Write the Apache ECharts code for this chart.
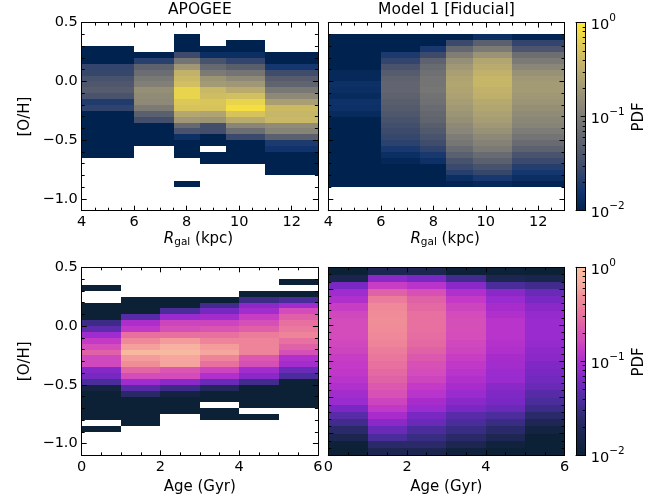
<!DOCTYPE html>
<html><head><meta charset="utf-8">
<script src="https://cdn.jsdelivr.net/npm/echarts@6/dist/echarts.min.js"></script>
<style>html,body{margin:0;padding:0;background:#fff}#c{width:670px;height:501px}</style>
</head><body><div id="c"></div>
<script>
// ---------------- data ----------------
const rgalEdges = [4, 6, 7.5, 8.5, 9.5, 11, 13];
const ageEdges = [0, 1, 2, 3, 4, 5, 6];
const ohFineTop = 0.4, ohFineStep = 0.05;     // [O/H] bins (top panels, APOGEE age)
const ohCoarseTop = 0.8, ohCoarseStep = 0.1;  // [O/H] bins (model vs age)
const rgalTicks = [4, 6, 8, 10, 12];
const ageTicks = [0, 2, 4, 6];
const ohTicks = [-1, -0.5, 0, 0.5];
const ohTicksModelAge = [-1.5, -1, -0.5, 0, 0.5];
const pdfLogTicks = [-2, -1, 0];
const pdfLogRange = [-2, 0];

// log10(PDF), one array per x-bin, rows listed from the top [O/H] bin downward; null = empty
const apogeeRgalLogPdf = [
  [null,null,-2,-2,-2,-1.6,-1.58,-1.46,-1.4,-1.34,-1.44,-1.7,-1.62,-2,-2,-2,-2,-2,-2,-2,-2,null,null,null,null,null],
  [null,null,null,-2,-1.66,-1.28,-1.16,-1.04,-0.96,-0.8,-0.84,-0.86,-1.02,-1.3,-1.5,-2,-2,-2,-2,null,null,null,null,null,null,null],
  [-2,-2,-2,-1.54,-1.08,-0.72,-0.46,-0.4,-0.34,-0.16,-0.16,-0.26,-0.3,-0.56,-0.72,-1.2,-1.44,-1.84,-2,-2,-2,null,null,null,null,-2],
  [null,null,-2,-1.86,-1.46,-1.2,-1.02,-0.74,-0.68,-0.4,-0.36,-0.28,-0.3,-0.6,-0.74,-1.5,-1.5,-2,-2,null,-2,-2,null,null,null,null],
  [null,-2,-2,-1.86,-1.6,-1.32,-1.08,-0.86,-0.72,-0.52,-0.34,-0.16,-0.08,-0.3,-0.52,-0.9,-1.14,-1.56,-2,-2,-2,-2,null,null,null,null],
  [null,null,null,-2,-2,-1.76,-1.52,-1.34,-1.26,-1.04,-0.86,-0.64,-0.38,-0.42,-0.4,-0.84,-0.92,-1.3,-1.72,-1.8,-2,-2,-2,-2,null,null]
];
const modelRgalLogPdf = [
  [-2,-2,-2,-2,-2,-2,-1.92,-1.92,-1.84,-1.86,-1.9,-1.82,-1.84,-1.9,-2,-2,-2,-2,-2,-2,-2,-2,-2,-2,-2,-2],
  [-2,-2,-2,-1.72,-1.6,-1.44,-1.34,-1.28,-1.24,-1.24,-1.28,-1.32,-1.36,-1.4,-1.46,-1.5,-1.54,-1.58,-1.64,-1.74,-1.86,-1.94,-2,-2,-2,-2],
  [-2,-2,-1.74,-1.54,-1.28,-1.18,-1.12,-1.08,-1.08,-1.06,-1.1,-1.12,-1.18,-1.22,-1.26,-1.32,-1.38,-1.44,-1.52,-1.62,-1.74,-1.84,-2,-2,-2,-2],
  [-2,-1.56,-1.22,-0.98,-0.8,-0.72,-0.64,-0.6,-0.58,-0.6,-0.62,-0.66,-0.7,-0.74,-0.8,-0.86,-0.9,-1.0,-1.06,-1.18,-1.3,-1.46,-1.56,-1.68,-1.86,-1.96],
  [-1.86,-1.3,-1.02,-0.76,-0.58,-0.52,-0.46,-0.42,-0.42,-0.46,-0.48,-0.54,-0.58,-0.62,-0.66,-0.72,-0.78,-0.86,-0.94,-1.02,-1.18,-1.3,-1.46,-1.58,-1.74,-1.92],
  [-1.96,-1.6,-1.42,-1.14,-1.02,-0.88,-0.78,-0.72,-0.68,-0.68,-0.72,-0.74,-0.8,-0.84,-0.88,-0.92,-1.0,-1.08,-1.18,-1.28,-1.44,-1.56,-1.68,-1.76,-1.86,-1.96]
];
const apogeeAgeLogPdf = [
  [null,-2,null,null,-2,-2,-2,-1.5,-1.32,-1.06,-0.88,-0.76,-0.6,-0.8,-0.8,-1.16,-1.22,-1.44,-1.9,-2,-2,-2,-2,-2,null,-2],
  [null,null,null,-2,-2,-2,-1.36,-1.0,-0.9,-0.52,-0.36,-0.24,-0.08,-0.26,-0.32,-0.58,-0.78,-1.06,-1.36,-1.64,-2,-2,-2,-2,-2,null],
  [null,null,null,-2,-2,-1.44,-1.08,-0.82,-0.74,-0.52,-0.26,-0.14,-0.08,-0.2,-0.22,-0.68,-0.78,-1.14,-1.5,-1.88,-2,-2,-2,null,null,null],
  [null,null,null,-2,-1.48,-1.22,-1.04,-0.82,-0.68,-0.52,-0.4,-0.26,-0.2,-0.4,-0.52,-0.82,-0.98,-1.28,-1.7,-2,-2,null,-2,-2,null,null],
  [null,null,-2,-1.5,-1.14,-1.04,-0.86,-0.74,-0.62,-0.44,-0.4,-0.4,-0.4,-0.66,-0.74,-1.04,-1.14,-1.48,-2,-2,-2,-2,null,-2,null,null],
  [-2,null,-2,-1.44,-1.06,-0.78,-0.62,-0.52,-0.46,-0.4,-0.52,-0.6,-0.74,-0.98,-1.04,-1.28,-1.44,-2,-2,-2,-2,-2,null,null,null,null]
];
const modelAgeLogPdf = [
  [-2,-1.8,-1.2,-1.06,-0.98,-0.86,-0.8,-0.78,-0.78,-0.78,-0.8,-0.82,-0.86,-0.88,-0.9,-0.94,-0.98,-1.04,-1.08,-1.2,-1.34,-1.48,-1.62,-1.76,-1.98,-2],
  [-1.76,-1.14,-0.86,-0.6,-0.44,-0.36,-0.34,-0.32,-0.34,-0.36,-0.4,-0.44,-0.48,-0.52,-0.56,-0.6,-0.66,-0.72,-0.82,-0.9,-1.02,-1.14,-1.28,-1.44,-1.62,-1.76],
  [-1.76,-1.2,-0.94,-0.72,-0.6,-0.56,-0.52,-0.52,-0.52,-0.54,-0.56,-0.6,-0.66,-0.72,-0.78,-0.82,-0.88,-0.94,-1.02,-1.08,-1.2,-1.28,-1.44,-1.52,-1.62,-1.76],
  [-1.96,-1.48,-1.14,-0.98,-0.88,-0.82,-0.78,-0.74,-0.74,-0.76,-0.8,-0.82,-0.86,-0.9,-0.94,-0.98,-1.02,-1.08,-1.14,-1.2,-1.34,-1.44,-1.52,-1.62,-1.76,-1.92],
  [-1.98,-1.76,-1.44,-1.14,-1.08,-1.02,-0.98,-0.94,-0.94,-0.94,-0.96,-0.98,-1.02,-1.04,-1.08,-1.08,-1.14,-1.18,-1.2,-1.28,-1.42,-1.52,-1.62,-1.74,-1.92,-2],
  [-2,-1.8,-1.48,-1.28,-1.2,-1.14,-1.1,-1.08,-1.08,-1.08,-1.1,-1.12,-1.14,-1.18,-1.2,-1.24,-1.28,-1.36,-1.44,-1.5,-1.62,-1.74,-1.9,-2,-2,-2]
];

// ---------------- colour maps ----------------
const cividisStops = [[0,'#00224e'],[1/9,'#123570'],[2/9,'#3b496c'],[3/9,'#575d6d'],[4/9,'#707173'],
  [5/9,'#8a8678'],[6/9,'#a59c74'],[7/9,'#c3b369'],[8/9,'#e1cc55'],[1,'#fee838']];
const bubbleStops = [[0,'#0c2036'],[0.12,'#1c2650'],[0.19,'#2a2a6a'],[0.25,'#3c2c88'],[0.28,'#4a2c9a'],
  [0.33,'#5a2ba8'],[0.36,'#6a2ab8'],[0.40,'#7a28c4'],[0.43,'#8a28c8'],[0.46,'#9a2ccf'],[0.49,'#a82ccc'],
  [0.51,'#b030cc'],[0.53,'#b834ca'],[0.56,'#c43ac6'],[0.59,'#cc44be'],[0.61,'#d44cbc'],[0.64,'#d650b6'],
  [0.67,'#dc58ae'],[0.70,'#e062a6'],[0.74,'#e870a0'],[0.78,'#ec7c9c'],[0.80,'#ee849a'],[0.84,'#f08e98'],
  [0.88,'#f5a09c'],[0.93,'#f8b0a0'],[0.96,'#f9b8a0'],[1,'#fac0a2']];
function makeCmap(stops){
  const s = stops.map(([t,h]) => [t, parseInt(h.slice(1,3),16), parseInt(h.slice(3,5),16), parseInt(h.slice(5,7),16)]);
  return function(t){
    t = Math.max(0, Math.min(1, t));
    for (let i = 1; i < s.length; i++) {
      if (t <= s[i][0]) {
        const a = s[i-1], b = s[i], f = (t - a[0]) / (b[0] - a[0]);
        return 'rgb(' + [1,2,3].map(k => Math.round(a[k] + (b[k]-a[k]) * f)).join(',') + ')';
      }
    }
    const l = s[s.length-1]; return 'rgb(' + l[1] + ',' + l[2] + ',' + l[3] + ')';
  };
}
const cividis = makeCmap(cividisStops), bubble = makeCmap(bubbleStops);

// ---------------- helpers ----------------
const FONT = 'DejaVu Sans';
const TICKFS = 14.5;
const option = { animation:false, backgroundColor:'#fff', grid:[], xAxis:[], yAxis:[], series:[], graphic:[] };

function fmtNum(v){ return (v < 0 ? '\u2212' : '') + Math.abs(v).toFixed(1); }
function fmtInt(v){ return String(v); }
function minorList(a, b, step){ const r=[]; const n=Math.round((b-a)/step); for(let i=0;i<=n;i++) r.push(+(a+i*step).toFixed(4)); return r; }

function axisDef(gi, range, pos, ticks, len, fmt, line, extraLabel){
  return { gridIndex:gi, type:'value', min:range[0], max:range[1], position:pos, z:10,
    axisLine:{show:line, onZero:false, lineStyle:{color:'#000', width:1}},
    axisTick:{show:true, inside:true, length:len, customValues:ticks, lineStyle:{color:'#000', width:1}},
    axisLabel: fmt ? Object.assign({show:true, customValues:ticks, formatter:fmt, fontSize:TICKFS, fontFamily:FONT, color:'#000', margin:4}, extraLabel||{}) : {show:false},
    splitLine:{show:false}, minorTick:{show:false}, minorSplitLine:{show:false} };
}
function addPanel(rect, xr, yr, xMaj, xMin, yMaj, yMin, xFmt, yFmt){
  const gi = option.grid.length;
  option.grid.push({left:rect[0], top:rect[1], width:rect[2], height:rect[3]});
  const xi = option.xAxis.length, yi = option.yAxis.length;
  option.xAxis.push(axisDef(gi, xr, 'bottom', xMaj, 5, xFmt, true));
  option.xAxis.push(axisDef(gi, xr, 'bottom', xMin, 3, null, false));
  option.xAxis.push(axisDef(gi, xr, 'top', xMaj, 5, null, true));
  option.xAxis.push(axisDef(gi, xr, 'top', xMin, 3, null, false));
  option.yAxis.push(axisDef(gi, yr, 'left', yMaj, 5, yFmt, true));
  option.yAxis.push(axisDef(gi, yr, 'left', yMin, 3, null, false));
  option.yAxis.push(axisDef(gi, yr, 'right', yMaj, 5, null, true));
  option.yAxis.push(axisDef(gi, yr, 'right', yMin, 3, null, false));
  return {xi, yi};
}
function cellData(edges, top, step, cols){
  const d = [];
  cols.forEach((col, ci) => col.forEach((v, ri) => {
    if (v === null) return;
    d.push([edges[ci], edges[ci+1], top - step*(ri+1), top - step*ri, v]);
  }));
  return d;
}
function heatSeries(idx, data, cmap){
  return { type:'custom', xAxisIndex:idx.xi, yAxisIndex:idx.yi, z:2, clip:true, data:data,
    encode:{x:[0,1], y:[2,3]},
    renderItem:function(params, api){
      const a = api.coord([api.value(0), api.value(3)]), b = api.coord([api.value(1), api.value(2)]);
      const x = Math.round(a[0]), y = Math.round(a[1]);
      const c = cmap((api.value(4) - pdfLogRange[0]) / (pdfLogRange[1] - pdfLogRange[0]));
      return {type:'rect', shape:{x:x, y:y, width:Math.round(b[0])-x, height:Math.round(b[1])-y}, style:{fill:c}};
    }};
}
function addColorbar(rect, stops){
  const gi = option.grid.length;
  option.grid.push({left:rect[0], top:rect[1], width:rect[2], height:rect[3]});
  const xi = option.xAxis.length, yi = option.yAxis.length;
  const xr = [0,1];
  option.xAxis.push(axisDef(gi, xr, 'bottom', [], 0, null, true));
  option.xAxis.push(axisDef(gi, xr, 'top', [], 0, null, true));
  const minors = [];
  for (let e = -2; e < 0; e++) for (let m = 2; m <= 9; m++) minors.push(Math.log10(m) + e);
  option.yAxis.push(axisDef(gi, pdfLogRange, 'right', pdfLogTicks, 5,
    v => '{b|10}{s|' + (v === 0 ? '0' : '\u2212' + Math.abs(v)) + '}', true,
    {margin:5, rich:{b:{fontSize:TICKFS, fontFamily:FONT, color:'#000', lineHeight:20, verticalAlign:'bottom'},
                      s:{fontSize:10.5, fontFamily:FONT, color:'#000', lineHeight:12, verticalAlign:'top'}}}));
  option.yAxis.push(axisDef(gi, pdfLogRange, 'right', minors, 3, null, false));
  option.yAxis.push(axisDef(gi, pdfLogRange, 'left', [], 0, null, true));
  option.series.push({ type:'custom', xAxisIndex:xi, yAxisIndex:yi, z:2, data:[[0, 1, pdfLogRange[0], pdfLogRange[1]]],
    renderItem:function(params, api){
      const a = api.coord([api.value(0), api.value(3)]), b = api.coord([api.value(1), api.value(2)]);
      return {type:'rect', shape:{x:a[0], y:a[1], width:b[0]-a[0], height:b[1]-a[1]},
        style:{fill:{type:'linear', x:0, y:1, x2:0, y2:0, colorStops:stops.map(([t,c]) => ({offset:t, color:c}))}}};
    }});
}

// ---------------- layout ----------------
const ohRange = [-1.1, 0.5], ohRangeModelAge = [-1.8, 0.8];
const rgalRange = [4, 13], ageRange = [0, 6];
const rgalMinor = minorList(4, 13, 0.5), ageMinor = minorList(0, 6, 0.5);
const ohMinor = minorList(-1.1, 0.5, 0.1), ohMinorModelAge = minorList(-1.8, 0.8, 0.1);

const pTL = addPanel([81.7, 22.6, 236.2, 188.1], rgalRange, ohRange, rgalTicks, rgalMinor, ohTicks, ohMinor, fmtInt, fmtNum);
const pTR = addPanel([328.3, 22.6, 236.2, 188.1], rgalRange, ohRange, rgalTicks, rgalMinor, ohTicks, ohMinor, fmtInt, null);
const pBL = addPanel([81.7, 267.3, 236.2, 188.1], ageRange, ohRange, ageTicks, ageMinor, ohTicks, ohMinor, fmtInt, fmtNum);
const pBR = addPanel([328.3, 267.3, 236.2, 188.1], ageRange, ohRangeModelAge, ageTicks, ageMinor, ohTicksModelAge, ohMinorModelAge, fmtInt, null);

option.series.push(heatSeries(pTL, cellData(rgalEdges, ohFineTop, ohFineStep, apogeeRgalLogPdf), cividis));
option.series.push(heatSeries(pTR, cellData(rgalEdges, ohFineTop, ohFineStep, modelRgalLogPdf), cividis));
option.series.push(heatSeries(pBL, cellData(ageEdges, ohFineTop, ohFineStep, apogeeAgeLogPdf), bubble));
option.series.push(heatSeries(pBR, cellData(ageEdges, ohCoarseTop, ohCoarseStep, modelAgeLogPdf), bubble));

addColorbar([576, 22.6, 9.7, 188.1], cividisStops);
addColorbar([576, 267.3, 9.7, 188.1], bubbleStops);

function txt(x, y, text, rot, fs){
  return {type:'text', x:x, y:y, rotation:rot||0, z:20,
    style:{text:text, font:(fs||15) + 'px "DejaVu Sans"', fill:'#000', align:'center', verticalAlign:'middle'}};
}
const rgalRich = {i:{fontSize:15, fontStyle:'italic', fontFamily:FONT, color:'#000', lineHeight:18},
  s:{fontSize:10.5, fontFamily:FONT, color:'#000', lineHeight:13, verticalAlign:'bottom'},
  n:{fontSize:15, fontFamily:FONT, color:'#000', lineHeight:18}};
option.graphic = [
  txt(199.8, 10, 'APOGEE', 0, 15.5),
  txt(446.4, 10, 'Model 1 [Fiducial]', 0, 15.5),
  txt(25, 116.6, '[O/H]', Math.PI/2),
  txt(25, 361.3, '[O/H]', Math.PI/2),
  {type:'text', x:198.5, y:239, z:20, style:{text:'{i|R}{s|gal}{n| (kpc)}', rich:rgalRich, align:'center', verticalAlign:'middle'}},
  {type:'text', x:445.1, y:239, z:20, style:{text:'{i|R}{s|gal}{n| (kpc)}', rich:rgalRich, align:'center', verticalAlign:'middle'}},
  txt(199.8, 487, 'Age (Gyr)'),
  txt(446.4, 487, 'Age (Gyr)'),
  txt(639, 117, 'PDF'  , Math.PI/2),
  txt(639, 362, 'PDF', Math.PI/2)
];

const chart = echarts.init(document.getElementById('c'), null, {renderer:'canvas'});
chart.setOption(option);
</script></body></html>
